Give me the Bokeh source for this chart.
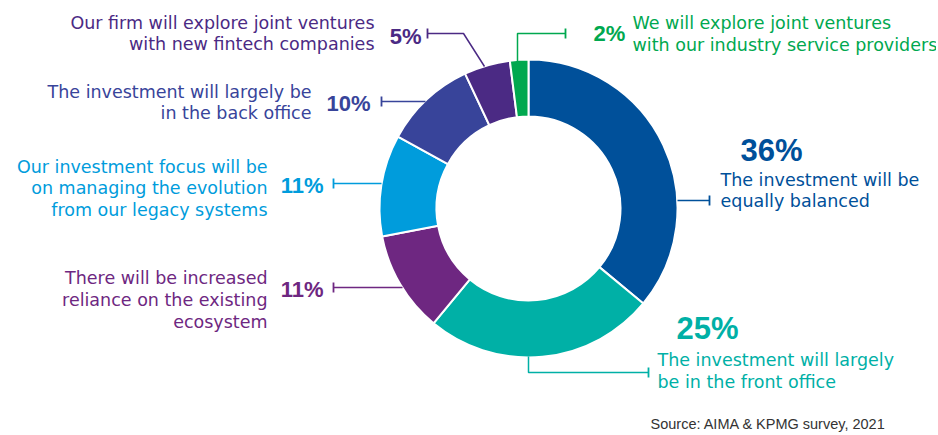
import numpy as np
from bokeh.plotting import figure
from bokeh.models import Range1d
from bokeh.core.properties import value
from bokeh.embed import file_html
from bokeh.resources import INLINE

# ---------------- data ----------------
categories = [
    "The investment will be equally balanced",
    "The investment will largely be in the front office",
    "There will be increased reliance on the existing ecosystem",
    "Our investment focus will be on managing the evolution from our legacy systems",
    "The investment will largely be in the back office",
    "Our firm will explore joint ventures with new fintech companies",
    "We will explore joint ventures with our industry service providers",
]
shares = [36, 25, 11, 11, 10, 5, 2]
pct_labels = ["36%", "25%", "11%", "11%", "10%", "5%", "2%"]
label_lines = [
    ["The investment will be", "equally balanced"],
    ["The investment will largely", "be in the front office"],
    ["There will be increased", "reliance on the existing", "ecosystem"],
    ["Our investment focus will be", "on managing the evolution", "from our legacy systems"],
    ["The investment will largely be", "in the back office"],
    ["Our firm will explore joint ventures", "with new fintech companies"],
    ["We will explore joint ventures", "with our industry service providers"],
]
colors = ["#00509A", "#00B0A6", "#6E2781", "#009CDC", "#38449A", "#4B2A84", "#00A84F"]
source_text = "Source: AIMA & KPMG survey, 2021"

# ---------------- layout (screen px) ----------------
W, H = 936, 433
OFF = 0  # page offset of the figure
def Y(sy):
    return 435 - sy

def TY(sy, size):
    # baseline correction for the svg text placement
    return Y(sy - 0.33 * size)

CX, CY = 528, 208
R_OUT, R_IN = 149, 92

BODY_FONT = value("DejaVu Sans")
PCT_FONT = value("Liberation Sans")
BODY_SIZE = 17.5

layout = [
    dict(tx=720, align="left", by=185, step=21, px=740, py=160, ps=31, pal="left",
         path=[(677, 200), (709, 200)]),
    dict(tx=657, align="left", by=365, step=22, px=676, py=338, ps=31, pal="left",
         path=[(528, 356), (528, 372), (648, 372)]),
    dict(tx=267, align="right", by=283, step=22, px=323, py=296, ps=22, pal="right",
         path=[(402, 287), (333, 287)]),
    dict(tx=267, align="right", by=172, step=21.5, px=323, py=192, ps=22, pal="right",
         path=[(381, 183), (333, 183)]),
    dict(tx=311, align="right", by=97, step=21, px=370, py=110, ps=22, pal="right",
         path=[(425, 101), (381, 101)]),
    dict(tx=374, align="right", by=28, step=21, px=421, py=43, ps=22, pal="right",
         path=[(484, 66), (463, 33), (427, 33)]),
    dict(tx=632, align="left", by=28, step=22, px=593, py=40, ps=22, pal="left",
         path=[(517, 62), (517, 33), (565, 33)]),
]

p = figure(width=W, height=H, x_range=Range1d(OFF, OFF + W), y_range=Range1d(Y(OFF + H), Y(OFF)),
           output_backend="svg", toolbar_location=None, x_axis_type=None, y_axis_type=None,
           min_border=0, outline_line_color=None, background_fill_color="white",
           border_fill_color="white")
p.grid.visible = False

# ---------------- donut ----------------
frac = np.array(shares, dtype=float) / sum(shares)
cum = np.concatenate([[0.0], np.cumsum(frac)])
start = np.pi / 2 - 2 * np.pi * cum[1:]
end = np.pi / 2 - 2 * np.pi * cum[:-1]
p.annular_wedge(x=[CX] * len(shares), y=[Y(CY)] * len(shares), inner_radius=R_IN,
                outer_radius=R_OUT, start_angle=list(start), end_angle=list(end),
                direction="anticlock", fill_color=colors, line_color="white", line_width=2)

# ---------------- leaders + labels ----------------
for i, L in enumerate(layout):
    c = colors[i]
    xs = [pt[0] for pt in L["path"]]
    ys = [Y(pt[1]) for pt in L["path"]]
    p.line(xs, ys, line_color=c, line_width=1.5)
    ex, ey = L["path"][-1]
    p.line([ex, ex], [Y(ey - 5), Y(ey + 5)], line_color=c, line_width=1.8)
    lines = label_lines[i]
    p.text(x=[L["tx"]] * len(lines),
           y=[TY(L["by"] + k * L["step"], BODY_SIZE) for k in range(len(lines))],
           text=lines, text_font=BODY_FONT, text_font_size=f"{BODY_SIZE}px", text_color=c,
           text_align=L["align"], text_baseline="alphabetic")
    p.text(x=[L["px"]], y=[TY(L["py"], L["ps"])], text=[pct_labels[i]], text_font=PCT_FONT,
           text_font_size=f"{L['ps']}px", text_font_style="bold", text_color=c,
           text_align=L["pal"], text_baseline="alphabetic")

p.text(x=[650], y=[TY(428, 14.5)], text=[source_text], text_font=value("Liberation Sans"),
       text_font_size="14.5px", text_color="#333333", text_align="left",
       text_baseline="alphabetic")

open("out.html", "w").write(file_html(p, INLINE))
